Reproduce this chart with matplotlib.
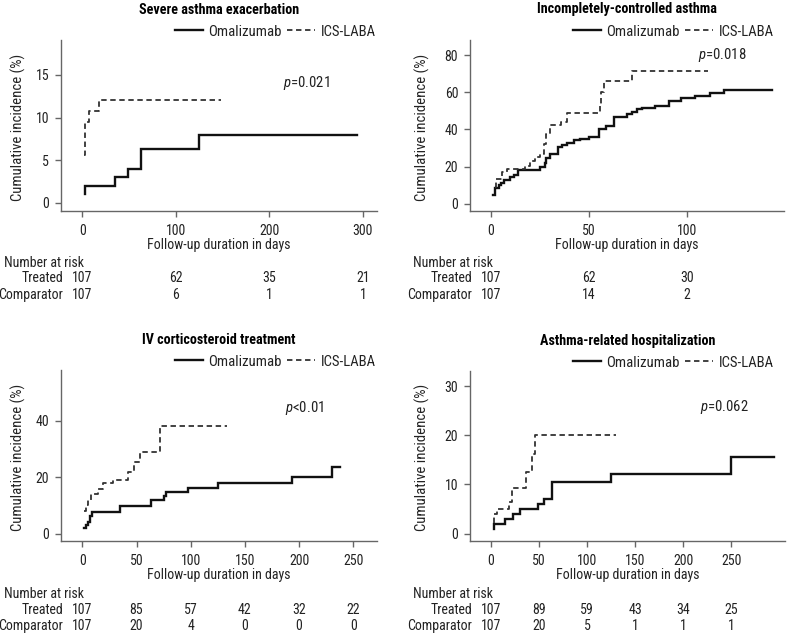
import matplotlib
matplotlib.use("Agg")
import matplotlib.pyplot as plt
import matplotlib.font_manager as fm
from matplotlib.transforms import blended_transform_factory

# ---------------- data ----------------
titles = ["Severe asthma exacerbation", "Incompletely-controlled asthma",
          "IV corticosteroid treatment", "Asthma-related hospitalization"]
series_names = ["Omalizumab", "ICS-LABA"]
p_labels = ["=0.021", "=0.018", "<0.01", "=0.062"]

# Panel 1
p1_oma_t = [2.8, 2.8, 35, 49, 63, 125, 294]
p1_oma_y = [1.0, 2.0, 3.0, 4.0, 6.3, 8.0, 8.0]
p1_ics_t = [2.0, 2.5, 7, 18, 148]
p1_ics_y = [5.6, 9.5, 10.8, 12.1, 12.1]

# Panel 2
p2_oma_t = [1.3, 2.0, 3.9, 5.2, 6.9, 9.5, 12.0, 13.8, 25.0, 27.4, 28.0, 30.3, 34.0,
            36.3, 38.8, 42.2, 45.6, 50.0, 55.4, 58.6, 62.9, 69.7, 72.0, 74.8, 77.0,
            83.8, 91.0, 97.0, 104.0, 112.0, 119.0, 143.4]
p2_oma_y = [4.9, 8.3, 9.8, 11.1, 12.9, 14.3, 15.2, 18.2, 19.8, 22.0, 24.7, 26.5, 30.5,
            31.4, 32.8, 34.1, 35.0, 35.9, 40.5, 42.0, 46.6, 48.1, 49.2, 50.8, 51.7,
            52.8, 55.3, 56.8, 58.2, 59.8, 61.3, 61.3]
p2_ics_t = [2.0, 2.6, 5.5, 8.0, 17.4, 20.0, 22.5, 25.0, 27.2, 28.0, 30.0, 36.0, 38.6,
            55.5, 56.2, 57.5, 72.0, 111.0]
p2_ics_y = [9.0, 13.5, 17.1, 18.9, 20.2, 22.9, 24.9, 27.0, 32.4, 37.8, 42.3, 44.1, 49.0,
            54.0, 60.5, 66.0, 71.7, 71.7]

# Panel 3
p3_oma_t = [1.9, 3.0, 5.0, 7.0, 9.3, 35.2, 63.4, 75.5, 77.0, 97.2, 125.5, 193.7, 230.7, 237.5]
p3_oma_y = [2.0, 3.2, 4.3, 6.1, 7.7, 9.8, 12.0, 13.2, 14.6, 16.2, 17.9, 20.2, 23.5, 23.5]
p3_ics_t = [1.9, 3.1, 5.6, 8.0, 14.8, 19.4, 28.7, 42.6, 48.1, 53.4, 71.9, 133.6]
p3_ics_y = [7.9, 10.2, 12.0, 13.9, 15.8, 17.9, 19.1, 22.0, 25.5, 29.1, 38.3, 38.3]

# Panel 4
p4_oma_t = [3.1, 3.4, 14.6, 22.6, 30.2, 49.4, 55.3, 63.3, 125.2, 250.3, 294.5]
p4_oma_y = [0.95, 2.0, 3.0, 4.0, 5.0, 6.0, 7.0, 10.5, 12.2, 15.6, 15.6]
p4_ics_t = [3.0, 3.5, 6.6, 19.0, 22.0, 36.0, 43.0, 45.9, 130.0]
p4_ics_y = [2.1, 4.0, 5.1, 6.4, 9.2, 12.6, 16.3, 20.0, 20.0]

# ticks
p1_xticks = [0, 100, 200, 300]; p1_yticks = [0, 5, 10, 15]
p2_xticks = [0, 50, 100];       p2_yticks = [0, 20, 40, 60, 80]
p3_xticks = [0, 50, 100, 150, 200, 250]; p3_yticks = [0, 20, 40]
p4_xticks = [0, 50, 100, 150, 200, 250]; p4_yticks = [0, 10, 20, 30]

# number at risk
p1_treated = [107, 62, 35, 21];  p1_comp = [107, 6, 1, 1]
p2_treated = [107, 62, 30];      p2_comp = [107, 14, 2]
p3_treated = [107, 85, 57, 42, 32, 22]; p3_comp = [107, 20, 4, 0, 0, 0]
p4_treated = [107, 89, 59, 43, 34, 25]; p4_comp = [107, 20, 5, 1, 1, 1]

# ---------------- style ----------------
names = {f.name for f in fm.fontManager.ttflist}
prefs = ["Roboto Condensed", "Liberation Sans Narrow", "Arial Narrow", "PT Sans Narrow",
         "Archivo Narrow", "Open Sans Condensed", "Fira Sans Condensed",
         "IBM Plex Sans Condensed", "Encode Sans Condensed", "Asap Condensed",
         "Barlow Semi Condensed"]
fam = next((p for p in prefs if p in names), None)
if fam is None:
    fam = "DejaVu Sans"
    plt.rcParams["font.stretch"] = "condensed"
plt.rcParams["font.family"] = [fam, "DejaVu Sans"]
plt.rcParams["mathtext.fontset"] = "custom"
plt.rcParams["mathtext.it"] = fam + ":italic"
plt.rcParams["mathtext.rm"] = fam

TXT = "#222222"
SPINE = "#666666"
FS_TICK = 10.0
FS_LAB = 10.0
FS_YLAB = 10.6
FS_LEG = 10.6
FS_RISK = 10.0
FS_TITLE = 10.2

W, H = 788, 637
fig = plt.figure(figsize=(W / 100, H / 100), dpi=100)

panels = [
    dict(box=(61, 377, 40, 211), xlim=(-22.8, 315), ylim=(-0.94, 19.1),
         xt=p1_xticks, yt=p1_yticks, oma=(p1_oma_t, p1_oma_y), ics=(p1_ics_t, p1_ics_y),
         risk=(p1_treated, p1_comp), ptxt=(215, 14.1), leg_x=1.0, ylab_x=18, top=True),
    dict(box=(470, 784, 40, 211), xlim=(-10.7, 149.7), ylim=(-4.0, 88.3),
         xt=p2_xticks, yt=p2_yticks, oma=(p2_oma_t, p2_oma_y), ics=(p2_ics_t, p2_ics_y),
         risk=(p2_treated, p2_comp), ptxt=(105.8, 80.2), leg_x=0.971, ylab_x=422, top=True),
    dict(box=(61, 377, 370, 541), xlim=(-19.7, 272), ylim=(-2.6, 58),
         xt=p3_xticks, yt=p3_yticks, oma=(p3_oma_t, p3_oma_y), ics=(p3_ics_t, p3_ics_y),
         risk=(p3_treated, p3_comp), ptxt=(187.5, 44.7), leg_x=1.0, ylab_x=18, top=False),
    dict(box=(470, 785, 371, 541), xlim=(-21.9, 306), ylim=(-1.5, 33.1),
         xt=p4_xticks, yt=p4_yticks, oma=(p4_oma_t, p4_oma_y), ics=(p4_ics_t, p4_ics_y),
         risk=(p4_treated, p4_comp), ptxt=(218, 25.7), leg_x=0.968, ylab_x=422, top=False),
]

for i, pn in enumerate(panels):
    l, r, t, b = pn["box"]
    ax = fig.add_axes([l / W, 1 - b / H, (r - l) / W, (b - t) / H])
    ax.set_xlim(*pn["xlim"]); ax.set_ylim(*pn["ylim"])
    for s in ["top", "right"]:
        ax.spines[s].set_visible(False)
    for s in ["left", "bottom"]:
        ax.spines[s].set_color(SPINE); ax.spines[s].set_linewidth(1.0)
    ax.set_xticks(pn["xt"]); ax.set_yticks(pn["yt"])
    ax.tick_params(direction="out", length=4, width=1.0, color=SPINE,
                   labelsize=FS_TICK, labelcolor=TXT)
    ax.tick_params(axis="x", pad=5.5)
    ax.tick_params(axis="y", pad=4.5)

    ot, oy = pn["oma"]; it, iy = pn["ics"]
    ax.step(ot, oy, where="post", color="#111111", lw=1.7, label=series_names[0],
            solid_joinstyle="miter")
    ax.step(it, iy, where="post", color="#333333", lw=1.3, ls=(0, (3.0, 2.0)),
            label=series_names[1])

    ax.text(*pn["ptxt"], r"$p$" + p_labels[i], fontsize=FS_LEG, color=TXT,
            ha="left", va="center")

    ax.legend(loc="lower right", bbox_to_anchor=(pn["leg_x"], 1.0), ncol=2,
              frameon=False, fontsize=FS_LEG, handlelength=1.9, handletextpad=0.35,
              columnspacing=0.4, borderpad=0.1, borderaxespad=0.0, labelcolor=TXT)

    hpx = b - t
    ax.text(0.5, 1 + 30.5 / hpx, titles[i], transform=ax.transAxes, ha="center",
            va="center", fontsize=FS_TITLE, fontweight="bold", color="black")
    ax.text(0.5, -34 / hpx, "Follow-up duration in days", transform=ax.transAxes,
            ha="center", va="center", fontsize=FS_LAB, color=TXT)
    ax.text((pn["ylab_x"] - l) / (r - l), 0.49, "Cumulative incidence (%)",
            transform=ax.transAxes, ha="center", va="center", rotation=90,
            fontsize=FS_YLAB, color=TXT)

    # number at risk table
    y0 = 263 if pn["top"] else 594
    rows = [y0, y0 + 15.5, y0 + 32]
    fig.text((l - 57) / W, 1 - rows[0] / H, "Number at risk", ha="left", va="center",
             fontsize=FS_RISK, color=TXT)
    fig.text((l + 2) / W, 1 - rows[1] / H, "Treated", ha="right", va="center",
             fontsize=FS_RISK, color=TXT)
    fig.text((l + 2) / W, 1 - rows[2] / H, "Comparator", ha="right", va="center",
             fontsize=FS_RISK, color=TXT)
    trans = blended_transform_factory(ax.transData, fig.transFigure)
    tr, cp = pn["risk"]
    for xv, a, c in zip(pn["xt"], tr, cp):
        ax.text(xv, 1 - rows[1] / H, str(a), transform=trans, ha="center", va="center",
                fontsize=FS_RISK, color=TXT, clip_on=False)
        ax.text(xv, 1 - rows[2] / H, str(c), transform=trans, ha="center", va="center",
                fontsize=FS_RISK, color=TXT, clip_on=False)

fig.savefig("out.png", dpi=100, facecolor="white")
